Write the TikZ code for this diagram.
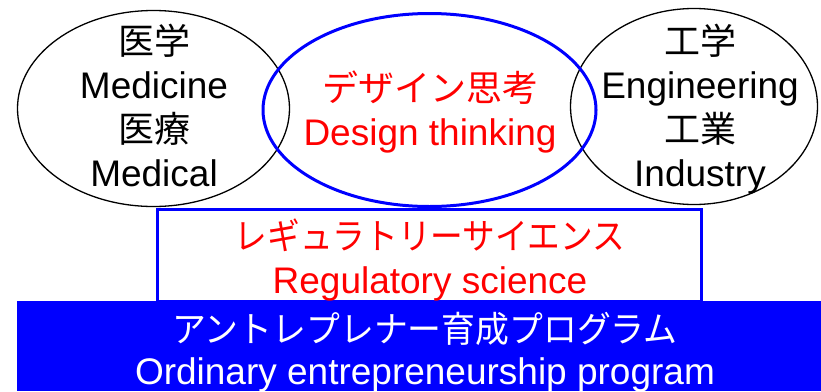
\documentclass[tikz,border=0pt]{standalone}
\usepackage{fontspec}
\setmainfont{Liberation Sans}
\newfontfamily\jpfont{Noto Sans CJK JP}
\usetikzlibrary{shapes.geometric}
\newcommand\jpt[1]{{\jpfont\fontsize{36}{44}\selectfont #1}}
\newcommand\jpn[2]{{\jpfont\fontsize{36}{44}\selectfont\scalebox{#1}[1]{#2}}}
\definecolor{pureblue}{RGB}{0,0,255}
\definecolor{purered}{RGB}{255,0,0}
\begin{document}
\begin{tikzpicture}[x=1pt,y=-1pt,
  blackell/.style={draw=black, line width=1.3pt, ellipse, inner sep=0pt},
  blueell/.style={draw=pureblue, line width=3pt, ellipse, inner sep=0pt},
  rectbox/.style={draw=pureblue, fill=white, line width=3pt, inner sep=0pt},
  band/.style={fill=pureblue, draw=none, inner sep=0pt},
  txt/.style={align=center, inner sep=0pt, anchor=north, font=\fontsize{37}{44}\selectfont}]
\useasboundingbox (0,0) rectangle (821,391);
% ellipses
\node[blackell, minimum width=272pt, minimum height=196pt] (med) at (153.5,108.5) {};
\node[blackell, minimum width=247pt, minimum height=196pt] (eng) at (694,106.5) {};
\node[blueell, minimum width=333pt, minimum height=193pt] (des) at (429.5,110) {};
% regulatory science box and band
\node[rectbox, minimum width=544pt, minimum height=92pt] (reg) at (429.5,255) {};
\node[band, minimum width=804pt, minimum height=90pt] (ent) at (419,346) {};
% texts
\node[txt] (medT) at (154,24) {\jpt{医学}\\Medicine\\\jpt{医療}\\Medical};
\node[txt] (engT) at (700,24) {\jpt{工学}\\Engineering\\\jpt{工業}\\Industry};
\node[txt, text=purered] (desT) at (430,71) {\jpt{デザイン思考}\\Design thinking};
\node[txt, text=purered] (regT) at (430,219) {\jpn{0.908}{レギュラトリーサイエンス}\\Regulatory science};
\node[txt, text=white, font=\fontsize{37}{42}\selectfont] (entT) at (425,312) {\jpn{0.94}{アントレプレナー育成プログラム}\\Ordinary entrepreneurship program};
\end{tikzpicture}
\end{document}
